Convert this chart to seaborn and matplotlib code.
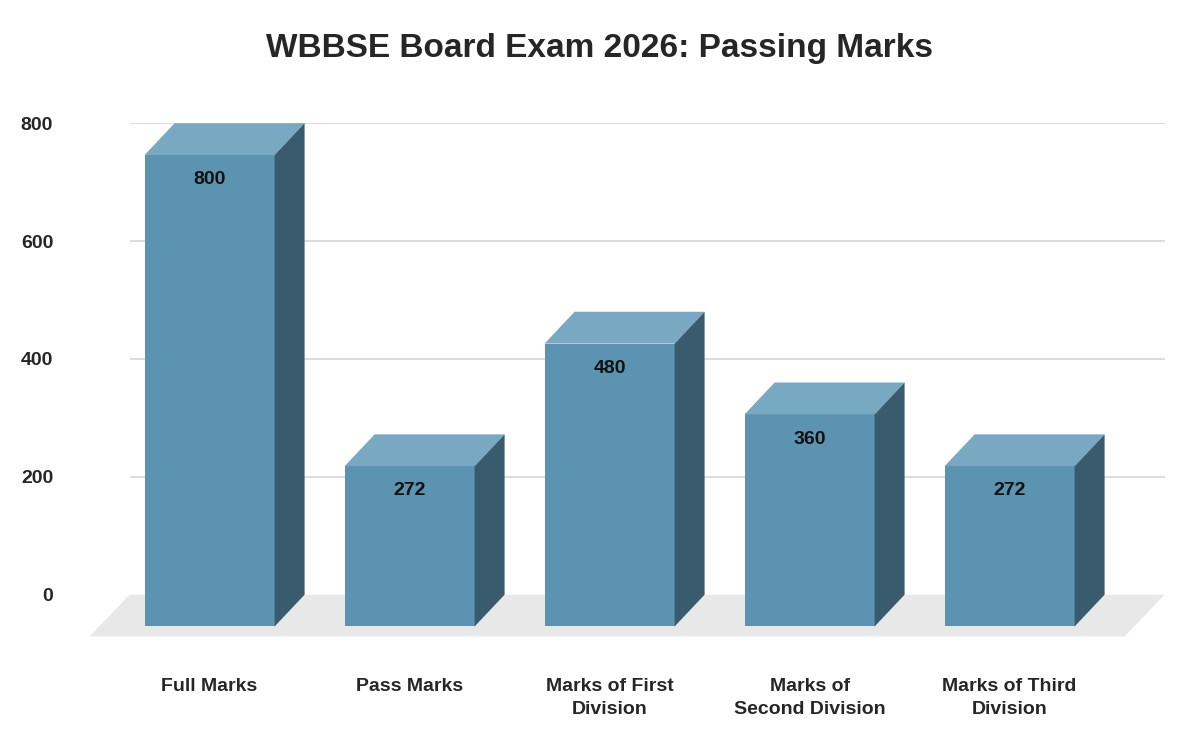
import matplotlib
matplotlib.use("Agg")
import matplotlib.pyplot as plt
import seaborn as sns
import pandas as pd
from matplotlib.patches import Polygon

categories = ["Full Marks", "Pass Marks", "Marks of First\nDivision", "Marks of\nSecond Division", "Marks of Third\nDivision"]
values = [800, 272, 480, 360, 272]
labels = ["800", "272", "480", "360", "272"]

sns.set_theme(style="white")
plt.rcParams['font.family'] = ['Liberation Sans', 'DejaVu Sans']

fig = plt.figure(figsize=(12, 7.42), dpi=100)
ax = fig.add_axes([0.108, 0.139, 0.8625, 0.695])
df = pd.DataFrame({"cat": categories, "val": values})
sns.barplot(data=df, x="cat", y="val", ax=ax, color="#5b93b0", width=0.65,
            saturation=1, zorder=3)
ax.set_xlim(-0.4, 4.775)
ax.set_ylim(-75, 800)

OFF = 54.0   # vertical depth in data units
DX = 0.15    # horizontal depth in category units

for y in [200, 400, 600, 800]:
    ax.axhline(y, color="#dddddd", lw=1.5, zorder=1)

# floor
floor = Polygon([(-0.4, 0), (4.775, 0), (4.775 - 0.2, -71), (-0.4 - 0.2, -71)],
                closed=True, facecolor="#e8e8e8", edgecolor="none", zorder=0, clip_on=False)
ax.add_patch(floor)

for p, lab in zip(ax.patches, labels):
    x0 = p.get_x() - 0.0
    w = p.get_width()
    h = p.get_height()
    p.set_y(-OFF)
    p.set_edgecolor("none")
    top = h - OFF
    ax.add_patch(Polygon([(x0, top), (x0 + w, top), (x0 + w + DX, h), (x0 + DX, h)],
                         facecolor="#79a9c2", edgecolor="none", zorder=3))
    ax.add_patch(Polygon([(x0 + w, -OFF), (x0 + w + DX, 0), (x0 + w + DX, h), (x0 + w, top)],
                         facecolor="#3a5b6e", edgecolor="none", zorder=3))
    ax.text(x0 + w / 2, top - 42, lab, ha="center", va="center",
            fontsize=14, fontweight="bold", color="#111111", zorder=5)

sns.despine(ax=ax, left=True, bottom=True)
ax.set_yticks([0, 200, 400, 600, 800])
ax.set_yticklabels(["0", "200", "400", "600", "800"], fontsize=14, fontweight="bold")
ax.tick_params(axis="y", length=0, pad=55)
ax.tick_params(axis="x", length=0, pad=28)
ax.set_xticks(range(len(categories)))
ax.set_xticklabels(categories, fontsize=14, fontweight="bold", linespacing=1.5, va="top")
ax.set_xlabel("")
ax.set_ylabel("")
fig.suptitle("WBBSE Board Exam 2026: Passing Marks", fontsize=24, fontweight="bold", y=0.955)
fig.savefig("out.png", dpi=100)
